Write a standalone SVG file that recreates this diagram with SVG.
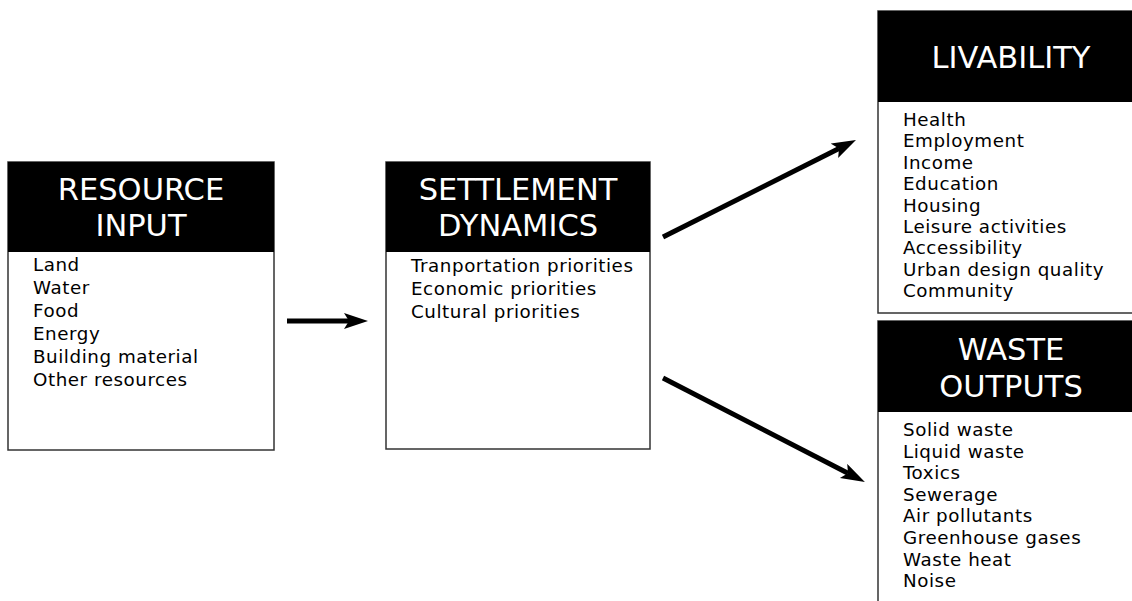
<svg xmlns="http://www.w3.org/2000/svg" width="1132" height="601" viewBox="0 0 1132 601">
<style>
.box{fill:#fff;stroke:#333;stroke-width:1.5}
.hdr{fill:#000}
.ht{font-family:"DejaVu Sans","Liberation Sans",sans-serif;font-size:30.5px;fill:#fff;text-anchor:middle}
.bt{font-family:"DejaVu Sans","Liberation Sans",sans-serif;font-size:18.3px;letter-spacing:0.55px;fill:#000}
.arr{stroke:#000;stroke-width:5;fill:none}
</style>
<defs>
<marker id="ah" markerUnits="userSpaceOnUse" markerWidth="30" markerHeight="20" refX="5" refY="8" orient="auto" viewBox="0 0 30 20">
<path d="M0,0 L24,8 L0,16 L5,8 Z" fill="#000"/>
</marker>
</defs>
<g id="resource-input">
<rect class="box" x="8" y="162" width="266" height="288"/>
<rect class="hdr" x="8" y="162" width="266" height="90"/>
<text class="ht" x="141" y="200">RESOURCE</text>
<text class="ht" x="141" y="236">INPUT</text>
<text class="bt" x="33" y="271">Land</text>
<text class="bt" x="33" y="294">Water</text>
<text class="bt" x="33" y="317">Food</text>
<text class="bt" x="33" y="340">Energy</text>
<text class="bt" x="33" y="363">Building material</text>
<text class="bt" x="33" y="386">Other resources</text>
</g>
<g id="settlement-dynamics">
<rect class="box" x="386" y="162" width="264" height="287"/>
<rect class="hdr" x="386" y="162" width="264" height="90"/>
<text class="ht" x="518" y="200">SETTLEMENT</text>
<text class="ht" x="518" y="236">DYNAMICS</text>
<text class="bt" x="411" y="272">Tranportation priorities</text>
<text class="bt" x="411" y="295">Economic priorities</text>
<text class="bt" x="411" y="318">Cultural priorities</text>
</g>
<g id="livability">
<rect class="box" x="878" y="11" width="266" height="302"/>
<rect class="hdr" x="878" y="11" width="266" height="91"/>
<text class="ht" x="1011" y="68">LIVABILITY</text>
<text class="bt" x="903" y="126">Health</text>
<text class="bt" x="903" y="147.4">Employment</text>
<text class="bt" x="903" y="168.8">Income</text>
<text class="bt" x="903" y="190.2">Education</text>
<text class="bt" x="903" y="211.6">Housing</text>
<text class="bt" x="903" y="233">Leisure activities</text>
<text class="bt" x="903" y="254.4">Accessibility</text>
<text class="bt" x="903" y="275.8">Urban design quality</text>
<text class="bt" x="903" y="297.2">Community</text>
</g>
<g id="waste-outputs">
<rect class="box" x="878" y="321" width="266" height="300"/>
<rect class="hdr" x="878" y="321" width="266" height="91"/>
<text class="ht" x="1011" y="360">WASTE</text>
<text class="ht" x="1011" y="397">OUTPUTS</text>
<text class="bt" x="903" y="436">Solid waste</text>
<text class="bt" x="903" y="457.6">Liquid waste</text>
<text class="bt" x="903" y="479.2">Toxics</text>
<text class="bt" x="903" y="500.8">Sewerage</text>
<text class="bt" x="903" y="522.4">Air pollutants</text>
<text class="bt" x="903" y="544">Greenhouse gases</text>
<text class="bt" x="903" y="565.6">Waste heat</text>
<text class="bt" x="903" y="587.2">Noise</text>
</g>
<g id="connectors">
<line class="arr" x1="287" y1="321" x2="349" y2="321" marker-end="url(#ah)"/>
<line class="arr" x1="663" y1="237" x2="839" y2="148.5" marker-end="url(#ah)"/>
<line class="arr" x1="663" y1="378" x2="848" y2="473.3" marker-end="url(#ah)"/>
</g>
</svg>
